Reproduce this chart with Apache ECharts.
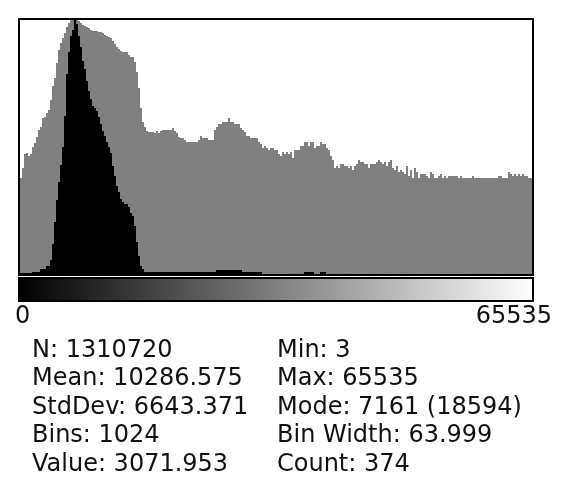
<!DOCTYPE html>
<html>
<head>
<meta charset="utf-8">
<script src="https://cdn.jsdelivr.net/npm/echarts@6/dist/echarts.min.js"></script>
<style>
html,body{margin:0;padding:0;background:#fff;}
#chart{width:574px;height:490px;}
</style>
</head>
<body>
<div id="chart"></div>
<script>
// Log-scaled histogram (grey), one value per displayed column (256 columns, 4 bins each), in plot-height units (0-254)
var logHeights = [
96,106,120,121,118,120,127,131,137,144,
147,156,157,161,164,174,188,196,211,224,
231,236,241,247,251,254,254,254,254,253,
251,249,248,247,246,244,243,243,243,242,
242,241,239,238,237,236,233,230,227,225,
223,222,222,222,219,217,217,212,202,186,
166,152,147,143,142,142,142,141,143,141,
143,144,144,144,144,144,146,143,141,137,
136,136,134,132,132,132,132,132,132,134,
138,136,136,136,134,134,134,144,147,150,
150,152,152,152,156,152,152,150,150,150,
146,144,142,138,138,136,136,136,136,132,
130,126,128,126,124,126,126,124,124,120,
118,122,120,122,120,122,116,124,124,124,
128,128,132,132,128,132,132,126,128,128,
132,130,130,126,124,118,114,106,108,106,
110,110,108,108,106,108,104,108,110,114,
112,112,110,110,106,110,110,110,112,114,
112,110,112,108,112,114,106,104,108,102,
104,102,100,108,98,104,96,106,102,96,
100,100,100,98,96,102,100,96,96,98,
100,96,98,96,98,98,98,98,98,96,
98,96,96,96,96,96,98,96,96,96,
96,96,96,96,96,96,96,96,96,98,
98,96,96,96,102,100,98,100,98,100,
98,100,98,98,96,96
];
// Linear histogram (black), same columns and units
var linHeights = [
1,1,1,1,1,1,2,2,2,2,
5,5,5,8,8,14,30,52,74,92,
109,127,158,200,222,238,244,254,250,238,
227,213,205,193,183,175,168,166,163,157,
150,143,138,132,127,121,108,98,88,82,
75,72,70,70,67,61,58,48,32,18,
8,5,2,2,2,2,2,2,2,2,
2,2,2,2,2,2,2,2,2,2,
2,2,2,2,2,2,2,2,2,2,
2,2,2,2,2,2,2,2,4,4,
4,4,4,4,4,4,4,4,4,4,
4,2,2,2,2,2,2,2,2,2,
2,0,0,0,0,0,0,0,0,0,
0,0,0,0,0,0,0,0,0,0,
0,0,2,2,2,2,2,0,0,0,
2,2,2,0,0,0,0,0,0,0,
0,0,0,0,0,0,0,0,0,0,
0,0,0,0,0,0,0,0,0,0,
0,0,0,0,0,0,0,0,0,0,
0,0,0,0,0,0,0,0,0,0,
0,0,0,0,0,0,0,0,0,0,
0,0,0,0,0,0,0,0,0,0,
0,0,0,0,0,0,0,0,0,0,
0,0,0,0,0,0,0,0,0,0,
0,0,0,0,0,0,0,0,0,0,
0,0,0,0,0,0
];
var rangeLabels = ["0", "65535"];
var statsLeft = ["N: 1310720", "Mean: 10286.575", "StdDev: 6643.371", "Bins: 1024", "Value: 3071.953"];
var statsRight = ["Min: 3", "Max: 65535", "Mode: 7161 (18594)", "Bin Width: 63.999", "Count: 374"];

var categories = logHeights.map(function (_, i) { return String(i * 256); });

var chart = echarts.init(document.getElementById('chart'), null, {renderer: 'canvas'});
var FONT = '"DejaVu Sans", sans-serif';
var rowBase = [359, 387.5, 416, 444.5, 473];
var graphics = [
  {type: 'rect', z: 100, shape: {x: 19, y: 19, width: 514, height: 256},
   style: {fill: 'none', stroke: '#000', lineWidth: 2}},
  {type: 'rect', z: 100, shape: {x: 19, y: 278, width: 514, height: 23},
   style: {fill: new echarts.graphic.LinearGradient(0, 0, 1, 0, [
     {offset: 0, color: '#000'}, {offset: 1, color: '#fff'}]), stroke: '#000', lineWidth: 2}},
  {type: 'text', z: 100, x: 15, y: 316.7, style: {text: rangeLabels[0], font: '24px ' + FONT, fill: '#111', align: 'left', verticalAlign: 'middle'}},
  {type: 'text', z: 100, x: 552, y: 316.7, style: {text: rangeLabels[1], font: '24px ' + FONT, fill: '#111', align: 'right', verticalAlign: 'middle'}}
];
for (var r = 0; r < statsLeft.length; r++) {
  graphics.push({type: 'text', z: 100, x: 32, y: rowBase[r] - 8.3,
    style: {text: statsLeft[r], font: '24px ' + FONT, fill: '#111', align: 'left', verticalAlign: 'middle'}});
  graphics.push({type: 'text', z: 100, x: 277, y: rowBase[r] - 8.3,
    style: {text: statsRight[r], font: '24px ' + FONT, fill: '#111', align: 'left', verticalAlign: 'middle'}});
}

chart.setOption({
  animation: false,
  backgroundColor: '#fff',
  grid: {left: 20, top: 20, width: 512, height: 254},
  xAxis: {type: 'category', data: categories, boundaryGap: true, show: false},
  yAxis: {type: 'value', min: 0, max: 254, show: false},
  series: [
    {type: 'bar', data: logHeights, barCategoryGap: '0%', barGap: '-100%', silent: true,
     itemStyle: {color: '#808080'}},
    {type: 'bar', data: linHeights, barCategoryGap: '0%', barGap: '-100%', silent: true,
     itemStyle: {color: '#000'}}
  ],
  graphic: graphics
});
</script>
</body>
</html>
